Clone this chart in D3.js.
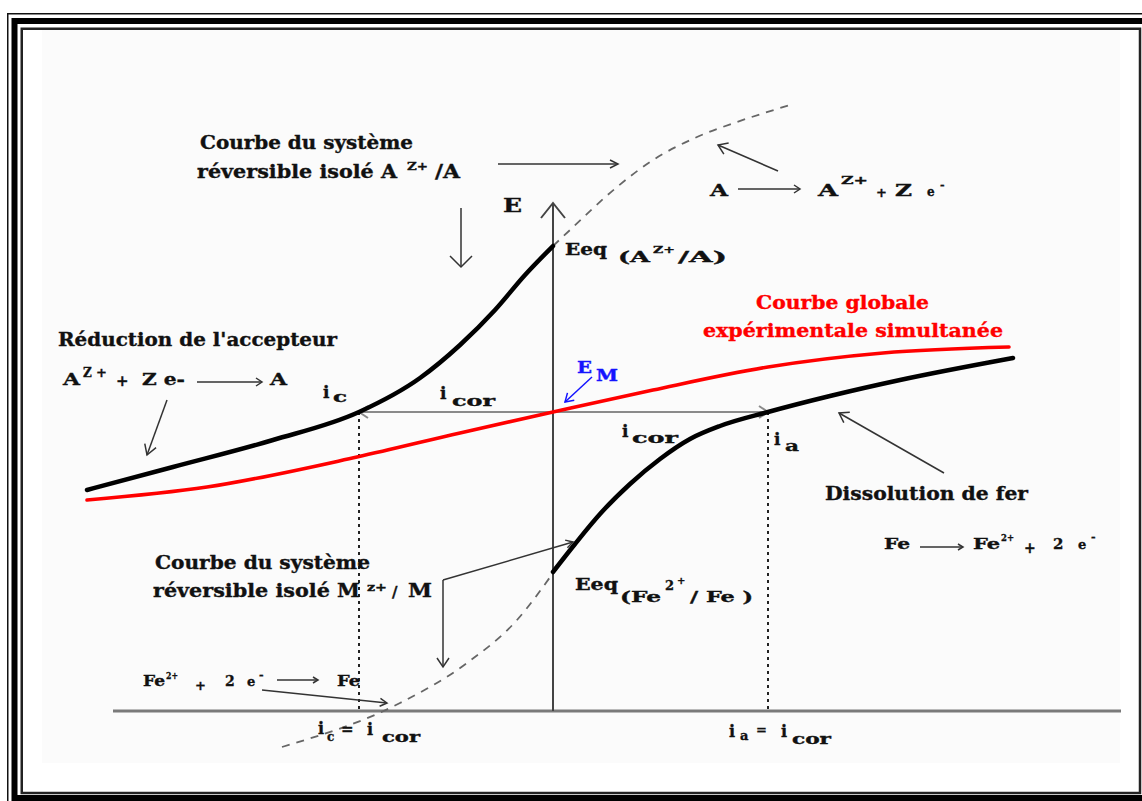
<!DOCTYPE html>
<html>
<head>
<meta charset="utf-8">
<script src="https://cdn.jsdelivr.net/npm/d3@7"></script>
<style>
  html, body { margin: 0; padding: 0; background: #fff; }
  svg { display: block; }
  text { font-family: "DejaVu Serif", "Liberation Serif", serif; font-weight: bold;
         stroke-width: 0.35px; paint-order: stroke; }
</style>
</head>
<body>
<svg id="chart" width="1142" height="801"></svg>
<script>
// ---- Evans-type diagram: potential E against current i (arbitrary units) ----
const iDomain = [-22, 28.4];
const eDomain = [0, 30];

// characteristic values
const E_M = 14.95;      // mixed (corrosion) potential
const EeqA = 23.25;     // equilibrium potential of A^Z+/A
const EeqFe = 6.95;     // equilibrium potential of Fe2+/Fe
const i_c = -9.7;       // cathodic current at E_M
const i_a = 10.75;      // anodic current at E_M
const axisTopE = 25.4;

// cathodic branch of the A^Z+/A couple  [i, E]
const branchA = [[-23.3, 11.05], [-19.0, 12.2], [-14.0, 13.55], [-9.7, 14.95], [-6.65, 16.65],
                 [-4.65, 18.3], [-2.9, 20.05], [-1.4, 21.8], [0, 23.25]];
// oxidation branch of A^Z+/A (not observed)
const dashedA = [[0, 23.25], [0.85, 24.05], [3.2, 26.2], [4.85, 27.45], [7.2, 28.7],
                 [9.2, 29.45], [11.85, 30.3]];
// anodic branch of Fe2+/Fe (iron dissolution)
const branchFe = [[0, 6.95], [1.1, 8.35], [2.35, 9.85], [3.85, 11.35], [5.35, 12.6], [6.85, 13.6],
                  [8.35, 14.25], [10.75, 14.95], [13.85, 15.75], [17.35, 16.55], [23.0, 17.65]];
// reduction branch of Fe2+/Fe (not observed)
const dashedFe = [[-13.55, -1.8], [-7.65, 0.4], [-4.3, 2.4], [-1.8, 4.55], [0, 6.9]];
// global experimental curve
const globalCurve = [[-23.3, 10.55], [-17.3, 11.2], [-9.8, 12.7], [-4.65, 13.9], [0, 14.95],
                     [5.0, 16.05], [10.75, 17.2], [16.5, 17.9], [22.8, 18.2]];

// annotation arrows [from, to, head length, head half-width]
const pointers = [
  [[-2.75, 27.35], [3.25, 27.35], 8, 4],
  [[-4.6, 25.15], [-4.6, 22.2], 11, 11],
  [[9.25, 26.1], [12.35, 26.1], 6, 4],
  [[11.25, 27.0], [8.25, 28.3], 9, 6],
  [[-19.3, 15.55], [-20.3, 12.8], 10, 6],
  [[-17.8, 16.45], [-14.55, 16.45], 6, 4],
  [[19.55, 11.9], [14.3, 14.9], 9, 6],
  [[-5.5, 6.55], [1.0, 8.45], 7, 4],
  [[-5.5, 6.55], [-5.5, 2.2], 9, 6],
  [[-13.8, 1.55], [-11.75, 1.55], 5, 3],
  [[-14.55, 1.05], [-8.3, 0.4], 7, 4],
  [[18.35, 8.2], [20.5, 8.2], 5, 3]
];
const emPointer = [[1.95, 16.7], [0.6, 15.45]];

// text labels
const labels = [
  { t: "Courbe du système", x: 200, y: 149, s: 18, w: 213 },
  { t: "réversible isolé A", x: 197, y: 178, s: 18, w: 200 },
  { t: "Z+", x: 407, y: 170, s: 11, w: 21 },
  { t: "/A", x: 435, y: 178, s: 18, w: 25 },
  { t: "E", x: 503, y: 212, s: 19, w: 19 },
  { t: "Eeq", x: 565, y: 255, s: 16, w: 42 },
  { t: "(A", x: 618, y: 262, s: 15, w: 32 },
  { t: "Z+", x: 653, y: 253, s: 10, w: 22 },
  { t: "/A)", x: 678, y: 262, s: 15, w: 49 },
  { t: "A", x: 710, y: 196, s: 16, w: 18 },
  { t: "A", x: 818, y: 196, s: 16, w: 20 },
  { t: "Z+", x: 841, y: 184, s: 11, w: 27 },
  { t: "+", x: 876, y: 197, s: 13 },
  { t: "Z", x: 895, y: 196, s: 16, w: 17 },
  { t: "e", x: 927, y: 196, s: 12 },
  { t: "-", x: 940, y: 189, s: 11 },
  { t: "Courbe globale", x: 756, y: 309, s: 18, w: 173, c: "#ff0000" },
  { t: "expérimentale simultanée", x: 703, y: 337, s: 18, w: 300, c: "#ff0000" },
  { t: "Réduction de l'accepteur", x: 58, y: 346, s: 18, w: 279 },
  { t: "A", x: 63, y: 385, s: 17, w: 17 },
  { t: "Z", x: 83, y: 377, s: 12 },
  { t: "+", x: 96, y: 377, s: 13 },
  { t: "+", x: 116, y: 386, s: 15 },
  { t: "Z e-", x: 142, y: 385, s: 17, w: 43 },
  { t: "A", x: 270, y: 385, s: 17, w: 17 },
  { t: "i", x: 323, y: 398, s: 17 },
  { t: "c", x: 333, y: 402, s: 14, w: 14 },
  { t: "i", x: 440, y: 399, s: 17 },
  { t: "cor", x: 452, y: 406, s: 15, w: 43 },
  { t: "E", x: 577, y: 373, s: 16, w: 15, c: "#1414ff" },
  { t: "M", x: 596, y: 381, s: 16, w: 22, c: "#1414ff" },
  { t: "i", x: 622, y: 437, s: 17 },
  { t: "cor", x: 632, y: 443, s: 15, w: 46 },
  { t: "i", x: 774, y: 445, s: 17 },
  { t: "a", x: 785, y: 451, s: 14, w: 14 },
  { t: "Dissolution de fer", x: 825, y: 500, s: 18, w: 203 },
  { t: "Fe", x: 884, y: 549, s: 15, w: 26 },
  { t: "Fe", x: 973, y: 549, s: 15, w: 27 },
  { t: "2+", x: 1001, y: 541, s: 10, w: 13 },
  { t: "+", x: 1024, y: 553, s: 14 },
  { t: "2", x: 1053, y: 549, s: 15 },
  { t: "e", x: 1078, y: 549, s: 13 },
  { t: "-", x: 1091, y: 541, s: 11 },
  { t: "Courbe du système", x: 155, y: 569, s: 18, w: 215 },
  { t: "réversible isolé M", x: 153, y: 597, s: 18, w: 207 },
  { t: "z+", x: 367, y: 591, s: 11, w: 20 },
  { t: "/", x: 392, y: 597, s: 15 },
  { t: "M", x: 408, y: 597, s: 18, w: 24 },
  { t: "Eeq", x: 575, y: 590, s: 16, w: 43 },
  { t: "(Fe", x: 620, y: 602, s: 15, w: 41 },
  { t: "2", x: 665, y: 590, s: 13 },
  { t: "+", x: 677, y: 584, s: 10 },
  { t: "/ Fe )", x: 690, y: 602, s: 15, w: 63 },
  { t: "Fe", x: 143, y: 686, s: 15, w: 22 },
  { t: "2+", x: 166, y: 679, s: 10, w: 12 },
  { t: "+", x: 195, y: 690, s: 13 },
  { t: "2", x: 225, y: 686, s: 14 },
  { t: "e", x: 247, y: 686, s: 13 },
  { t: "-", x: 259, y: 679, s: 11 },
  { t: "Fe", x: 337, y: 686, s: 15, w: 23 },
  { t: "i", x: 318, y: 734, s: 16 },
  { t: "c", x: 327, y: 741, s: 12 },
  { t: "=", x: 341, y: 734, s: 15 },
  { t: "i", x: 367, y: 735, s: 16 },
  { t: "cor", x: 382, y: 742, s: 14, w: 38 },
  { t: "i", x: 729, y: 737, s: 16 },
  { t: "a", x: 740, y: 740, s: 13 },
  { t: "=", x: 756, y: 734, s: 13 },
  { t: "i", x: 781, y: 737, s: 16 },
  { t: "cor", x: 792, y: 744, s: 14, w: 39 }
];

// ---- drawing ----
const svg = d3.select("#chart");
const x = d3.scaleLinear().domain(iDomain).range([113, 1121]);
const y = d3.scaleLinear().domain(eDomain).range([711, 111]);

// page frame
svg.append("rect").attr("x", 0).attr("y", 0).attr("width", 1142).attr("height", 801).attr("fill", "#fff");
svg.append("rect").attr("x", 42).attr("y", 30).attr("width", 1078).attr("height", 733).attr("fill", "#fbfbfb");
svg.append("rect").attr("x", 7.75).attr("y", 13.75).attr("width", 1170).attr("height", 820)
  .attr("fill", "none").attr("stroke", "#111").attr("stroke-width", 1.5);
svg.append("rect").attr("x", 14.5).attr("y", 21).attr("width", 1140).attr("height", 777)
  .attr("fill", "none").attr("stroke", "#000").attr("stroke-width", 6);
svg.append("rect").attr("x", 21.75).attr("y", 28.75).attr("width", 1118.25).attr("height", 764.25)
  .attr("fill", "none").attr("stroke", "#222").attr("stroke-width", 2.5);

const g = svg.append("g");

function arrow(from, to, len, half, color, width) {
  const x1 = x(from[0]), y1 = y(from[1]), x2 = x(to[0]), y2 = y(to[1]);
  const a = Math.atan2(y2 - y1, x2 - x1);
  g.append("line").attr("x1", x1).attr("y1", y1).attr("x2", x2).attr("y2", y2)
    .attr("stroke", color).attr("stroke-width", width);
  const wing = s => [x2 - len * Math.cos(a) + s * half * Math.sin(a), y2 - len * Math.sin(a) - s * half * Math.cos(a)];
  const w1 = wing(1), w2 = wing(-1);
  g.append("path").attr("d", `M${w1[0]},${w1[1]}L${x2},${y2}L${w2[0]},${w2[1]}`)
    .attr("fill", "none").attr("stroke", color).attr("stroke-width", width);
}

// i axis (baseline) and E axis
g.append("line").attr("x1", x(iDomain[0])).attr("x2", x(iDomain[1]))
  .attr("y1", y(0)).attr("y2", y(0)).attr("stroke", "#7a7a7a").attr("stroke-width", 3);
arrow([0, 0], [0, axisTopE], 15, 12, "#444", 2);

// dotted drop lines at i_c and i_a
[i_c, i_a].forEach(v => {
  g.append("line").attr("x1", x(v)).attr("x2", x(v)).attr("y1", y(E_M)).attr("y2", y(0))
    .attr("stroke", "#222").attr("stroke-width", 2).attr("stroke-dasharray", "3,4");
});

// i_cor arrows from E_M
arrow([0, E_M], [i_c, E_M], 9, 6, "#8a8a8a", 2);
arrow([0, E_M], [i_a, E_M], 9, 6, "#8a8a8a", 2);

const line = d3.line().x(d => x(d[0])).y(d => y(d[1])).curve(d3.curveMonotoneX);

g.append("path").attr("d", line(dashedA)).attr("fill", "none")
  .attr("stroke", "#666").attr("stroke-width", 1.8).attr("stroke-dasharray", "8,7");
g.append("path").attr("d", line(dashedFe)).attr("fill", "none")
  .attr("stroke", "#666").attr("stroke-width", 1.8).attr("stroke-dasharray", "8,7");
g.append("path").attr("d", line(globalCurve)).attr("fill", "none")
  .attr("stroke", "#ff0000").attr("stroke-width", 3.6).attr("stroke-linecap", "round");
g.append("path").attr("d", line(branchA)).attr("fill", "none")
  .attr("stroke", "#000").attr("stroke-width", 4.5).attr("stroke-linecap", "round");
g.append("path").attr("d", line(branchFe)).attr("fill", "none")
  .attr("stroke", "#000").attr("stroke-width", 4.5).attr("stroke-linecap", "round");

pointers.forEach(p => arrow(p[0], p[1], p[2], p[3], "#333", 1.5));
arrow(emPointer[0], emPointer[1], 8, 5, "#1414ff", 1.5);

labels.forEach(p => {
  const col = p.c || "#111";
  const t = g.append("text").attr("x", p.x).attr("y", p.y)
    .style("font-size", p.s + "px").attr("fill", col).attr("stroke", col).text(p.t);
  if (p.w) t.attr("textLength", p.w).attr("lengthAdjust", "spacingAndGlyphs");
});
</script>
</body>
</html>
